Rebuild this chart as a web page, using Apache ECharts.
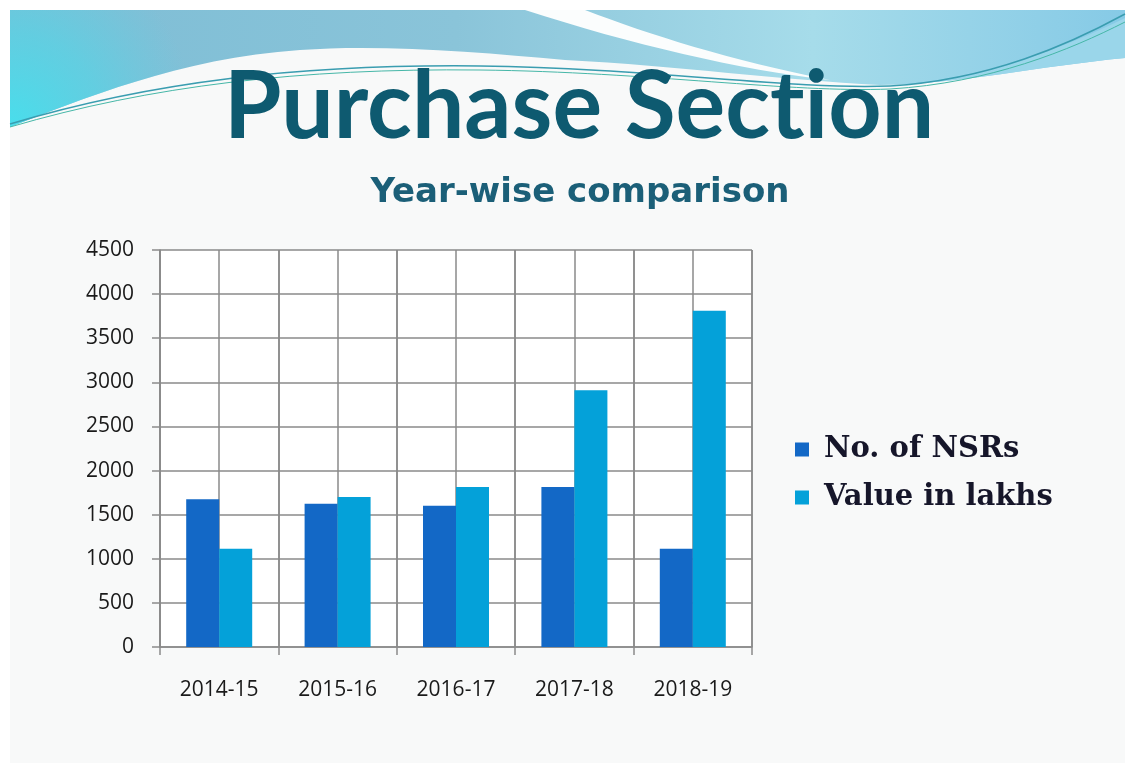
<!DOCTYPE html>
<html>
<head>
<meta charset="utf-8">
<script src="https://cdn.jsdelivr.net/npm/echarts@6/dist/echarts.min.js"></script>
<style>
  html, body { margin: 0; padding: 0; background: #ffffff; }
  #chart { width: 1135px; height: 773px; }
</style>
</head>
<body>
<div id="chart"></div>
<script>
// data
var years = ['2014-15', '2015-16', '2016-17', '2017-18', '2018-19'];
var nsrCount = [1675, 1625, 1600, 1815, 1115];
var valueLakhs = [1115, 1700, 1815, 2910, 3810];
var seriesNames = ['No. of NSRs', 'Value in lakhs'];

var gridGray = '#8a8a8a';

// small shape for the decorative waves: segs = [['M',x,y], ['C',...], ['L',x,y], ['Z']]
var WavePath = echarts.graphic.extendShape({
    shape: { segs: [] },
    buildPath: function (ctx, shape) {
        shape.segs.forEach(function (s) {
            if (s[0] === 'M') ctx.moveTo(s[1], s[2]);
            else if (s[0] === 'L') ctx.lineTo(s[1], s[2]);
            else if (s[0] === 'C') ctx.bezierCurveTo(s[1], s[2], s[3], s[4], s[5], s[6]);
            else if (s[0] === 'Z') ctx.closePath();
        });
    }
});
echarts.graphic.registerShape('wavePath', WavePath);

function purchaseChart() {
    var chart = echarts.init(document.getElementById('chart'));

    var option = {
        backgroundColor: '#ffffff',
        title: [
            {
                text: 'Purchase Sect\u200Cion',
                left: 574,
                textAlign: 'center',
                top: 56,
                textStyle: { fontFamily: 'Lato', fontWeight: 'bold', fontSize: 93, color: '#0e5a70' }
            },
            {
                text: 'Year-wise comparison',
                left: 575,
                textAlign: 'center',
                top: 171,
                textStyle: { fontFamily: 'DejaVu Sans', fontWeight: 'bold', fontSize: 34, color: '#1b5f78' }
            }
        ],
        // slide background + top waves (decoration only)
        graphic: [
            { type: 'rect', z: -10, shape: { x: 10, y: 10, width: 1115, height: 753 }, style: { fill: '#f8f9f9' } },
            {
                // main blue band
                type: 'wavePath', z: -9,
                shape: { segs: [['M', 10, 10], ['L', 1125, 10], ['L', 1125, 58],
                    ['C', 1040, 66, 960, 84, 880, 85], ['C', 780, 80, 680, 66, 565, 60],
                    ['C', 480, 52, 380, 44, 300, 50], ['C', 180, 58, 80, 100, 10, 127], ['Z']] },
                style: {
                    fill: new echarts.graphic.LinearGradient(0, 0, 1, 0, [
                        { offset: 0, color: '#7dbdd5' },
                        { offset: 0.4, color: '#8ac4d9' },
                        { offset: 0.72, color: '#a6dcea' },
                        { offset: 1, color: '#86cae6' }
                    ])
                }
            },
            {
                // cyan glow bottom-left, fading out
                type: 'wavePath', z: -8,
                shape: { segs: [['M', 10, 10], ['L', 300, 10], ['L', 300, 50],
                    ['C', 180, 58, 80, 100, 10, 127], ['Z']] },
                style: {
                    fill: new echarts.graphic.RadialGradient(0, 1, 1.6, [
                        { offset: 0, color: 'rgba(72,222,236,1)' },
                        { offset: 0.5, color: 'rgba(80,216,232,0.6)' },
                        { offset: 1, color: 'rgba(90,210,230,0)' }
                    ])
                }
            },
            {
                // white streak top right
                type: 'wavePath', z: -7,
                shape: { segs: [['M', 525, 10], ['L', 585, 10], ['C', 650, 35, 730, 60, 830, 80],
                    ['C', 740, 70, 630, 44, 525, 10], ['Z']] },
                style: { fill: '#fbfdfd' }
            },
            {
                // light blue sweep under the lines at the right
                type: 'wavePath', z: -7,
                shape: { segs: [['M', 880, 85], ['C', 980, 80, 1060, 50, 1125, 18], ['L', 1125, 58],
                    ['C', 1040, 66, 960, 84, 880, 85], ['Z']] },
                style: { fill: '#9ad6ea' }
            },
            {
                type: 'wavePath', z: -6,
                shape: { segs: [['M', 10, 124], ['C', 150, 82, 300, 64, 480, 66], ['C', 650, 68, 790, 90, 890, 86],
                    ['C', 990, 80, 1070, 44, 1125, 14]] },
                style: { fill: null, stroke: '#3a9db0', lineWidth: 1.5 }
            },
            {
                type: 'wavePath', z: -6,
                shape: { segs: [['M', 10, 127], ['C', 150, 86, 300, 68, 480, 70], ['C', 650, 72, 790, 93, 890, 89],
                    ['C', 990, 83, 1070, 50, 1125, 22]] },
                style: { fill: null, stroke: '#46b7a8', lineWidth: 1 }
            }
        ],
        legend: {
            orient: 'vertical',
            left: 790,
            top: 430,
            itemWidth: 14,
            itemHeight: 14,
            itemGap: 19,
            icon: 'rect',
            data: seriesNames,
            textStyle: {
                fontFamily: 'DejaVu Serif',
                fontWeight: 'bold',
                fontSize: 29,
                color: '#16162a',
                padding: [0, 0, 0, 10]
            }
        },
        grid: {
            left: 160,
            right: 383,
            top: 250,
            bottom: 126,
            show: true,
            backgroundColor: '#ffffff',
            borderWidth: 0
        },
        xAxis: [
            {
                type: 'category',
                data: years,
                axisLine: { lineStyle: { color: gridGray, width: 1.5 } },
                axisTick: { show: true, length: 8, lineStyle: { color: gridGray, width: 1.5 } },
                axisLabel: { fontFamily: 'Open Sans', fontSize: 21, color: '#1a1a1a', margin: 33 },
                splitLine: { show: true, lineStyle: { color: gridGray, width: 1.5 } }
            },
            {
                // extra vertical grid lines through each category centre
                type: 'value',
                min: 0,
                max: 10,
                interval: 1,
                position: 'bottom',
                axisLine: { show: false },
                axisTick: { show: false },
                axisLabel: { show: false },
                splitLine: { show: true, lineStyle: { color: gridGray, width: 1.5 } }
            }
        ],
        yAxis: {
            type: 'value',
            min: 0,
            max: 4500,
            interval: 500,
            axisLine: { show: true, lineStyle: { color: gridGray, width: 1.5 } },
            axisTick: { show: true, length: 8, lineStyle: { color: gridGray, width: 1.5 } },
            axisLabel: {
                fontFamily: 'Open Sans', fontSize: 21, color: '#1a1a1a', margin: 26,
                formatter: function (v) { return String(v); }
            },
            splitLine: { show: true, lineStyle: { color: gridGray, width: 1.5 } }
        },
        series: [
            {
                name: seriesNames[0],
                type: 'bar',
                xAxisIndex: 0,
                barWidth: 33,
                barGap: '0%',
                itemStyle: { color: '#1368c6' },
                data: nsrCount
            },
            {
                name: seriesNames[1],
                type: 'bar',
                xAxisIndex: 0,
                barWidth: 33,
                barGap: '0%',
                itemStyle: { color: '#04a1d9' },
                data: valueLakhs
            }
        ]
    };

    chart.setOption(option);
}

purchaseChart();
</script>
</body>
</html>
